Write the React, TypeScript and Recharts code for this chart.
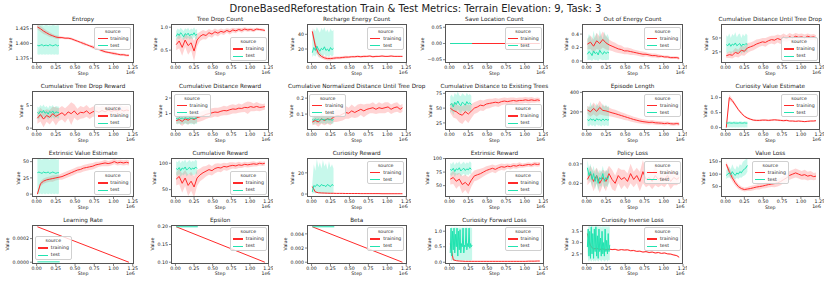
import React from "react"
import { ComposedChart, Line, Area, XAxis, YAxis } from "recharts"

const FONT = '"DejaVu Sans", sans-serif'
const RED = "#ff2a2a"
const TEAL = "#21e3b0"

// steps in units of 1e6
const TRAIN_STEPS = [0.01, 0.05, 0.09, 0.13, 0.17, 0.21, 0.25, 0.29, 0.33, 0.37, 0.41, 0.45, 0.49, 0.53, 0.57, 0.61, 0.65, 0.69, 0.73, 0.77, 0.81, 0.85, 0.89, 0.93, 0.97, 1.01, 1.05, 1.09, 1.13, 1.17, 1.2]
const TEST_STEPS = [0.01, 0.03, 0.05, 0.07, 0.09, 0.11, 0.13, 0.15, 0.17, 0.19, 0.21, 0.23, 0.25, 0.27, 0.29]
const OSC_STEPS = [0.01, 0.02, 0.03, 0.04, 0.05, 0.06, 0.07, 0.08, 0.09, 0.1, 0.11, 0.12, 0.13, 0.14, 0.15, 0.16, 0.17, 0.18, 0.19, 0.2, 0.21, 0.22, 0.23, 0.24, 0.25, 0.26, 0.27, 0.28, 0.29, 0.3]
const LIN_STEPS = [0.01, 1.2]
const TEST_LIN_STEPS = [0.01, 0.3]
const X_TICKS = [0, 0.25, 0.5, 0.75, 1, 1.25]

const entropyTrain = [1.428, 1.425, 1.421, 1.418, 1.415, 1.413, 1.411, 1.410, 1.410, 1.409, 1.409, 1.408, 1.406, 1.404, 1.402, 1.400, 1.398, 1.396, 1.394, 1.392, 1.390, 1.388, 1.386, 1.385, 1.384, 1.383, 1.382, 1.381, 1.381, 1.380, 1.380]
const entropyTrainSpread = [0.004, 0.005, 0.005, 0.004, 0.004, 0.003, 0.003, 0.003, 0.002, 0.002, 0.002, 0.002, 0.002, 0.002, 0.002, 0.003, 0.002, 0.002, 0.003, 0.002, 0.002, 0.003, 0.002, 0.002, 0.002, 0.003, 0.002, 0.002, 0.002, 0.002, 0.002]
const entropyTest = [1.397, 1.396, 1.397, 1.398, 1.396, 1.397, 1.397, 1.396, 1.398, 1.397, 1.396, 1.397, 1.398, 1.396, 1.397]
const entropyTestLo = [1.382, 1.381, 1.382, 1.381, 1.382, 1.381, 1.382, 1.381, 1.382, 1.381, 1.382, 1.381, 1.382, 1.381, 1.382]
const entropyTestHi = [1.431, 1.430, 1.431, 1.432, 1.430, 1.431, 1.432, 1.430, 1.431, 1.430, 1.432, 1.431, 1.430, 1.431, 1.431]

const treeDropTrain = [0.62, 0.70, 0.56, 0.72, 0.60, 0.66, 0.48, 0.72, 0.80, 0.84, 0.82, 0.88, 0.85, 0.90, 0.87, 0.91, 0.89, 0.93, 0.90, 0.94, 0.92, 0.95, 0.93, 0.96, 0.94, 0.95, 0.93, 0.96, 0.95, 0.94, 0.93]
const treeDropTrainSpread = [0.12, 0.16, 0.18, 0.15, 0.2, 0.16, 0.22, 0.14, 0.1, 0.1, 0.09, 0.08, 0.08, 0.07, 0.07, 0.06, 0.06, 0.05, 0.06, 0.05, 0.05, 0.04, 0.05, 0.04, 0.04, 0.04, 0.04, 0.03, 0.03, 0.03, 0.03]
const treeDropTest = [0.80, 0.86, 0.82, 0.88, 0.84, 0.79, 0.86, 0.83, 0.87, 0.81, 0.85, 0.83, 0.88, 0.82, 0.85]
const treeDropTestLo = [0.72, 0.76, 0.74, 0.78, 0.75, 0.72, 0.77, 0.74, 0.78, 0.73, 0.76, 0.74, 0.79, 0.73, 0.76]
const treeDropTestHi = [0.92, 0.97, 0.94, 0.99, 0.95, 0.92, 0.98, 0.95, 0.99, 0.93, 0.97, 0.95, 1.0, 0.94, 0.96]

const rechargeTrain = [44, 24, 14, 10, 8, 7, 7, 7.5, 8, 8, 8.5, 9, 9, 9.5, 9.5, 10, 9.5, 10, 10, 10.5, 9.5, 10, 10, 10.5, 10, 10, 10.5, 10, 10, 10, 10]
const rechargeTrainSpread = [5, 6, 5, 3, 2.5, 2.5, 2.5, 2, 2, 2, 2, 1.8, 1.5, 1.5, 1.5, 1.5, 1.5, 1.5, 1.2, 1.2, 1.2, 1.2, 1, 1, 1, 1, 1, 1, 1, 1, 1]
const rechargeTest = [15, 22, 18, 24, 20, 17, 21, 19, 23, 18, 20, 17, 22, 19, 21]
const rechargeTestLo = [9, 12, 10, 14, 11, 9, 12, 10, 13, 10, 11, 9, 12, 10, 12]
const rechargeTestHi = [40, 48, 44, 50, 46, 42, 49, 45, 50, 43, 47, 42, 48, 44, 46]

const saveLocTrain = [0, 0]
const saveLocTest = [0, 0]

const outEnergyTrain = [0.25, 0.28, 0.22, 0.30, 0.26, 0.32, 0.27, 0.24, 0.22, 0.20, 0.18, 0.17, 0.15, 0.15, 0.14, 0.13, 0.12, 0.11, 0.10, 0.10, 0.09, 0.08, 0.08, 0.07, 0.07, 0.06, 0.06, 0.05, 0.05, 0.05, 0.04]
const outEnergyTrainSpread = [0.08, 0.1, 0.1, 0.12, 0.1, 0.12, 0.1, 0.08, 0.07, 0.07, 0.06, 0.06, 0.05, 0.05, 0.05, 0.04, 0.04, 0.04, 0.04, 0.03, 0.03, 0.03, 0.03, 0.03, 0.02, 0.02, 0.02, 0.02, 0.02, 0.02, 0.02]
const outEnergyTest = [0.10, 0.14, 0.12, 0.08, 0.15, 0.11, 0.13, 0.09, 0.16, 0.12, 0.10, 0.14, 0.11, 0.13, 0.12]
const outEnergyTestLo = [0.01, 0.02, 0.02, 0.0, 0.03, 0.01, 0.02, 0.0, 0.03, 0.02, 0.01, 0.02, 0.01, 0.02, 0.02]
const outEnergyTestHi = [0.32, 0.40, 0.36, 0.30, 0.45, 0.34, 0.42, 0.31, 0.46, 0.38, 0.33, 0.44, 0.36, 0.40, 0.35]

const distUntilTrain = [18, 20, 19, 24, 22, 28, 26, 32, 34, 36, 39, 41, 43, 42, 45, 47, 46, 49, 47, 51, 49, 52, 50, 53, 51, 52, 50, 53, 51, 52, 50]
const distUntilTrainSpread = [4, 6, 6, 8, 7, 9, 8, 9, 8, 8, 8, 7, 7, 8, 7, 7, 8, 7, 8, 7, 6, 7, 6, 6, 6, 6, 6, 5, 5, 5, 5]
const distUntilTest = [38, 36, 40, 35, 39, 37, 41, 36, 38, 40, 35, 39, 37, 40, 38]
const distUntilTestLo = [24, 22, 26, 20, 25, 23, 27, 21, 24, 26, 21, 25, 23, 26, 24]
const distUntilTestHi = [55, 52, 58, 50, 57, 54, 60, 51, 56, 58, 50, 57, 53, 58, 55]

const dropRewardTrain = [2.2, 3.0, 2.0, 2.8, 2.4, 3.2, 2.6, 3.0, 3.4, 2.8, 3.6, 3.2, 3.8, 3.0, 3.5, 3.4, 3.8, 3.2, 3.6, 3.8, 3.5, 3.9, 3.6, 4.0, 3.7, 3.9, 3.8, 4.1, 3.8, 4.0, 3.9]
const dropRewardTrainSpread = [1.2, 1.5, 1.8, 1.4, 1.6, 1.5, 2.0, 1.4, 1.5, 1.6, 1.4, 2.5, 1.5, 1.3, 1.4, 1.2, 1.3, 1.2, 1.1, 1.2, 1.1, 1.0, 1.1, 1.0, 1.0, 1.0, 0.9, 1.0, 0.9, 0.9, 0.9]
const dropRewardTest = [3.5, 3.2, 3.8, 3.4, 3.9, 3.3, 3.6, 3.1, 3.7, 3.4, 3.8, 3.2, 3.6, 3.5, 3.4]
const dropRewardTestLo = [2.2, 1.9, 2.5, 2.0, 2.6, 2.1, 2.4, 1.8, 2.5, 2.1, 2.6, 2.0, 2.4, 2.2, 2.1]
const dropRewardTestHi = [4.8, 4.5, 5.1, 4.7, 5.2, 4.6, 4.9, 4.4, 5.0, 4.7, 5.1, 4.5, 4.9, 4.8, 4.7]

const distRewardTrain = [0.55, 0.62, 0.5, 0.66, 0.58, 0.7, 0.62, 0.74, 0.8, 0.86, 0.95, 1.0, 1.05, 1.1, 1.08, 1.15, 1.2, 1.18, 1.25, 1.3, 1.28, 1.35, 1.33, 1.4, 1.38, 1.45, 1.4, 1.46, 1.4, 1.42, 1.45]
const distRewardTrainSpread = [0.2, 0.25, 0.3, 0.25, 0.3, 0.28, 0.3, 0.3, 0.3, 0.3, 0.3, 0.28, 0.3, 0.28, 0.3, 0.28, 0.3, 0.28, 0.3, 0.3, 0.28, 0.3, 0.25, 0.3, 0.4, 0.3, 0.25, 0.28, 0.25, 0.2, 0.2]
const distRewardTest = [0.7, 0.65, 0.75, 0.68, 0.72, 0.66, 0.74, 0.7, 0.68, 0.73, 0.69, 0.71, 0.67, 0.72, 0.7]
const distRewardTestLo = [0.35, 0.3, 0.4, 0.28, 0.38, 0.3, 0.36, 0.32, 0.3, 0.38, 0.3, 0.35, 0.28, 0.36, 0.33]
const distRewardTestHi = [1.0, 0.95, 1.05, 0.98, 1.02, 0.94, 1.04, 1.0, 0.97, 1.03, 0.98, 1.01, 0.96, 1.02, 1.0]

const normDistTrain = [0.05, 0.06, 0.05, 0.07, 0.06, 0.07, 0.065, 0.08, 0.09, 0.09, 0.1, 0.11, 0.105, 0.12, 0.11, 0.12, 0.13, 0.12, 0.13, 0.135, 0.14, 0.13, 0.14, 0.135, 0.14, 0.145, 0.13, 0.14, 0.145, 0.13, 0.14]
const normDistTrainSpread = [0.02, 0.025, 0.03, 0.03, 0.03, 0.03, 0.035, 0.03, 0.04, 0.035, 0.04, 0.04, 0.035, 0.04, 0.035, 0.04, 0.035, 0.04, 0.035, 0.03, 0.035, 0.03, 0.035, 0.03, 0.035, 0.03, 0.03, 0.03, 0.03, 0.025, 0.025]
const normDistTest = [0.065, 0.06, 0.07, 0.062, 0.068, 0.06, 0.07, 0.064, 0.066, 0.06, 0.07, 0.063, 0.067, 0.061, 0.066]
const normDistTestLo = [0.04, 0.035, 0.045, 0.038, 0.044, 0.036, 0.046, 0.04, 0.042, 0.036, 0.045, 0.039, 0.043, 0.037, 0.042]
const normDistTestHi = [0.095, 0.09, 0.1, 0.092, 0.098, 0.09, 0.1, 0.094, 0.096, 0.09, 0.1, 0.093, 0.097, 0.091, 0.096]

const treesDistTrain = [50, 46, 44, 40, 38, 44, 40, 45, 50, 52, 55, 54, 57, 58, 59, 60, 59, 61, 62, 61, 62, 63, 62, 63, 63, 64, 63, 64, 63, 64, 63]
const treesDistTrainSpread = [8, 12, 12, 14, 15, 14, 15, 12, 10, 10, 9, 9, 8, 8, 7, 7, 7, 6, 6, 6, 6, 5, 5, 5, 5, 5, 5, 5, 4, 4, 4]
const treesDistTest = [55, 58, 52, 60, 56, 62, 57, 54, 60, 58, 55, 61, 57, 59, 56]
const treesDistTestLo = [42, 45, 38, 46, 43, 48, 44, 40, 46, 45, 41, 47, 44, 45, 43]
const treesDistTestHi = [70, 73, 68, 76, 72, 78, 72, 70, 75, 73, 70, 76, 72, 74, 71]

const epLenTrain = [220, 200, 235, 205, 245, 215, 210, 200, 190, 182, 172, 162, 152, 142, 132, 122, 114, 106, 100, 96, 92, 94, 88, 86, 84, 80, 84, 78, 76, 80, 75]
const epLenTrainSpread = [40, 50, 60, 55, 70, 50, 50, 45, 40, 40, 38, 35, 35, 30, 30, 28, 28, 25, 25, 22, 22, 22, 20, 20, 20, 20, 18, 18, 18, 18, 18]
const epLenTest = [120, 110, 130, 115, 125, 105, 130, 118, 122, 108, 128, 112, 124, 116, 120]
const epLenTestLo = [60, 50, 70, 55, 65, 48, 72, 58, 62, 50, 68, 52, 64, 56, 60]
const epLenTestHi = [260, 240, 300, 250, 280, 230, 290, 255, 270, 235, 285, 245, 275, 250, 260]

const curValTrain = [0.0, 1.0, 0.9, 0.75, 0.6, 0.48, 0.38, 0.32, 0.28, 0.25, 0.24, 0.24, 0.25, 0.25, 0.24, 0.25, 0.26, 0.25, 0.24, 0.23, 0.24, 0.22, 0.22, 0.21, 0.22, 0.21, 0.2, 0.21, 0.22, 0.22, 0.23]
const curValTrainSpread = [0.02, 0.1, 0.06, 0.05, 0.04, 0.04, 0.03, 0.03, 0.03, 0.03, 0.03, 0.03, 0.03, 0.03, 0.03, 0.03, 0.03, 0.03, 0.03, 0.03, 0.03, 0.02, 0.02, 0.02, 0.02, 0.02, 0.02, 0.02, 0.02, 0.02, 0.02]
const curValTest = [0.15, 0.15, 0.16, 0.15, 0.15, 0.16, 0.15, 0.15, 0.15, 0.16, 0.15, 0.15, 0.16, 0.15, 0.15]
const curValTestLo = [0.0, 0.01, 0.0, 0.01, 0.0, 0.01, 0.0, 0.01, 0.0, 0.01, 0.0, 0.01, 0.0, 0.01, 0.0]
const curValTestHi = [0.2, 0.19, 0.21, 0.2, 0.19, 0.21, 0.2, 0.2, 0.19, 0.21, 0.2, 0.19, 0.21, 0.2, 0.2]

const extValTrain = [0, 16, 20, 22, 23, 24, 25, 26, 27, 29, 31, 33, 35, 37, 38, 40, 41, 42, 43, 45, 46, 47, 48, 47, 48, 50, 48, 49, 48, 49, 48]
const extValTrainSpread = [2, 4, 4, 4, 4, 5, 4, 4, 5, 5, 5, 5, 5, 5, 5, 5, 5, 5, 5, 5, 4, 4, 5, 4, 4, 4, 4, 4, 4, 4, 4]
const extValTest = [33, 34, 33, 32, 34, 33, 33, 34, 32, 33, 34, 33, 32, 33, 33]
const extValTestLo = [1, 0, 1, 0, 1, 0, 1, 0, 1, 0, 1, 0, 1, 0, 1]
const extValTestHi = [54, 55, 54, 53, 55, 54, 55, 54, 53, 55, 54, 55, 54, 53, 54]

const cumRewardTrain = [70, 75, 62, 72, 58, 66, 55, 72, 78, 82, 85, 88, 86, 90, 92, 91, 94, 93, 95, 96, 95, 97, 96, 98, 97, 98, 99, 98, 100, 99, 100]
const cumRewardTrainSpread = [12, 15, 18, 15, 20, 18, 20, 15, 12, 12, 10, 10, 9, 9, 8, 8, 7, 7, 7, 6, 6, 6, 5, 5, 5, 5, 5, 4, 4, 4, 4]
const cumRewardTest = [90, 88, 92, 86, 91, 89, 93, 87, 90, 92, 88, 91, 89, 93, 90]
const cumRewardTestLo = [78, 76, 80, 74, 79, 77, 81, 75, 78, 80, 76, 79, 77, 81, 78]
const cumRewardTestHi = [104, 102, 106, 100, 105, 103, 107, 101, 104, 106, 102, 105, 103, 107, 104]

const curRewardTrain = [7, 2, 1.2, 1, 0.9, 0.8, 0.7, 0.7, 0.6, 0.6, 0.6, 0.5, 0.5, 0.5, 0.5, 0.5, 0.4, 0.4, 0.4, 0.4, 0.4, 0.4, 0.4, 0.3, 0.3, 0.3, 0.3, 0.3, 0.3, 0.3, 0.3]
const curRewardTrainSpread = [1, 0.5, 0.3, 0.2, 0.2, 0.2, 0.2, 0.2, 0.1, 0.1, 0.1, 0.1, 0.1, 0.1, 0.1, 0.1, 0.1, 0.1, 0.1, 0.1, 0.1, 0.1, 0.1, 0.1, 0.1, 0.1, 0.1, 0.1, 0.1, 0.1, 0.1]
const curRewardTest = [2, 8, 7, 9, 8, 7, 9, 8, 8, 7, 9, 8, 7, 9, 8]
const curRewardTestLo = [0, 1, 0.5, 1, 0.5, 1, 0.5, 1, 0.5, 1, 0.5, 1, 0.5, 1, 0.5]
const curRewardTestHi = [10, 28, 22, 33, 25, 30, 24, 32, 26, 29, 23, 31, 25, 28, 24]

const extRewardTrain = [62, 65, 58, 62, 52, 56, 50, 60, 68, 70, 72, 75, 78, 80, 82, 80, 83, 85, 84, 86, 85, 87, 86, 88, 87, 88, 89, 88, 90, 89, 90]
const extRewardTrainSpread = [10, 12, 14, 12, 16, 14, 16, 12, 10, 10, 9, 8, 8, 7, 7, 7, 6, 6, 6, 5, 5, 5, 5, 5, 4, 4, 4, 4, 4, 4, 4]
const extRewardTest = [80, 78, 82, 76, 81, 79, 83, 77, 80, 82, 78, 81, 79, 83, 80]
const extRewardTestLo = [70, 68, 72, 66, 71, 69, 73, 67, 70, 72, 68, 71, 69, 73, 70]
const extRewardTestHi = [92, 90, 94, 88, 93, 91, 95, 89, 92, 94, 90, 93, 91, 95, 92]

const policyLossTrain = [0.022, 0.025, 0.021, 0.024, 0.02, 0.023, 0.021, 0.025, 0.022, 0.02, 0.024, 0.022, 0.023, 0.021, 0.025, 0.022, 0.024, 0.021, 0.026, 0.022, 0.023, 0.021, 0.024, 0.022, 0.023, 0.022, 0.024, 0.021, 0.023, 0.022, 0.023]
const policyLossTrainSpread = [0.003, 0.004, 0.005, 0.004, 0.005, 0.004, 0.005, 0.004, 0.005, 0.004, 0.004, 0.005, 0.004, 0.004, 0.005, 0.004, 0.004, 0.005, 0.006, 0.004, 0.004, 0.004, 0.005, 0.004, 0.004, 0.004, 0.004, 0.004, 0.004, 0.003, 0.003]
const policyLossTest = [0.028, 0.024, 0.026, 0.022, 0.025, 0.021, 0.024, 0.02, 0.023, 0.022, 0.025, 0.021, 0.023, 0.022, 0.024]
const policyLossTestLo = [0.024, 0.021, 0.022, 0.018, 0.021, 0.017, 0.02, 0.016, 0.019, 0.018, 0.021, 0.017, 0.019, 0.018, 0.02]
const policyLossTestHi = [0.032, 0.028, 0.03, 0.026, 0.029, 0.025, 0.028, 0.025, 0.027, 0.026, 0.029, 0.025, 0.027, 0.026, 0.028]

const valueLossTrain = [140, 110, 85, 65, 50, 42, 38, 40, 42, 45, 48, 50, 52, 55, 58, 60, 62, 65, 70, 78, 85, 95, 100, 105, 100, 95, 98, 92, 95, 90, 92]
const valueLossTrainSpread = [10, 15, 15, 12, 10, 8, 8, 8, 10, 10, 10, 12, 10, 12, 12, 12, 15, 15, 15, 15, 18, 18, 18, 18, 18, 18, 20, 18, 18, 15, 15]
const valueLossTest = [95, 100, 105, 98, 110, 100, 95, 105, 100, 110, 105, 115, 120, 125, 135]
const valueLossTestLo = [80, 85, 88, 80, 90, 82, 78, 85, 80, 88, 85, 92, 95, 100, 110]
const valueLossTestHi = [115, 125, 130, 120, 140, 125, 118, 135, 125, 140, 135, 150, 155, 160, 165]

const lrTrain = [0.0003, 0.0]
const lrTest = [0.000003, 0.000003]
const epsTrain = [0.2, 0.1]
const epsTest = [0.2, 0.2]
const betaTrain = [0.005, 0.0]
const betaTest = [0.005, 0.005]

const fwdLossTrain = [0.6, 0.08, 0.05, 0.04, 0.035, 0.03, 0.03, 0.03, 0.03, 0.03, 0.03, 0.03, 0.03, 0.03, 0.03, 0.03, 0.03, 0.03, 0.03, 0.03, 0.03, 0.03, 0.03, 0.03, 0.03, 0.03, 0.035, 0.035, 0.035, 0.04, 0.04]
const fwdLossTrainSpread = [0.05, 0.03, 0.01, 0.01, 0.01, 0.01, 0.01, 0.01, 0.01, 0.01, 0.01, 0.01, 0.01, 0.01, 0.01, 0.01, 0.01, 0.01, 0.01, 0.01, 0.01, 0.01, 0.01, 0.01, 0.01, 0.01, 0.01, 0.01, 0.01, 0.01, 0.01]
const fwdLossTest = [0.3, 1.1, 0.2, 1.0, 0.4, 1.1, 0.3, 0.9, 0.5, 1.1, 0.2, 1.0, 0.4, 1.05, 0.3, 0.6, 0.5, 1.1, 0.3, 0.55, 0.5, 1.1, 0.4, 0.6, 0.5, 1.1, 0.45, 0.6, 0.5, 0.55]
const fwdLossTestLo = [0.3, 0.05, 0.05, 0.08, 0.05, 0.06, 0.05, 0.08, 0.06, 0.05, 0.05, 0.07, 0.06, 0.05, 0.08, 0.06, 0.05, 0.07, 0.05, 0.06, 0.08, 0.05, 0.06, 0.05, 0.07, 0.05, 0.06, 0.05, 0.07, 0.06]
const fwdLossTestHi = [0.5, 1.15, 1.1, 1.12, 1.08, 1.15, 1.1, 1.13, 1.1, 1.15, 1.08, 1.12, 1.1, 1.14, 1.09, 1.12, 1.1, 1.15, 1.08, 1.12, 1.1, 1.15, 1.1, 1.12, 1.08, 1.15, 1.1, 1.13, 1.1, 1.12]

const invLossTrain = [3.4, 2.85, 2.72, 2.74, 2.7, 2.72, 2.68, 2.71, 2.69, 2.7, 2.66, 2.69, 2.67, 2.68, 2.64, 2.65, 2.61, 2.62, 2.58, 2.6, 2.56, 2.58, 2.54, 2.56, 2.52, 2.54, 2.5, 2.49, 2.45, 2.42, 2.35]
const invLossTrainSpread = [0.1, 0.06, 0.04, 0.04, 0.04, 0.03, 0.03, 0.03, 0.03, 0.03, 0.03, 0.03, 0.03, 0.03, 0.03, 0.03, 0.03, 0.03, 0.03, 0.03, 0.03, 0.03, 0.03, 0.03, 0.03, 0.03, 0.03, 0.03, 0.03, 0.03, 0.03]
const invLossTest = [2.8, 3.6, 2.4, 3.5, 2.3, 3.7, 2.5, 3.4, 2.3, 3.6, 2.6, 3.7, 2.4, 3.3, 2.3, 3.6, 2.6, 3.2, 2.4, 3.5, 2.5, 3.0, 2.4, 3.6, 2.6, 3.1, 2.5, 3.4, 2.6, 2.9]
const invLossTestLo = [2.6, 2.2, 2.15, 2.25, 2.2, 2.15, 2.2, 2.25, 2.15, 2.2, 2.2, 2.15, 2.25, 2.2, 2.15, 2.2, 2.25, 2.2, 2.15, 2.2, 2.25, 2.2, 2.15, 2.2, 2.2, 2.25, 2.15, 2.2, 2.25, 2.2]
const invLossTestHi = [3.0, 3.72, 3.7, 3.75, 3.68, 3.72, 3.7, 3.74, 3.7, 3.72, 3.68, 3.75, 3.7, 3.72, 3.7, 3.73, 3.7, 3.72, 3.68, 3.74, 3.7, 3.72, 3.7, 3.75, 3.68, 3.72, 3.7, 3.73, 3.7, 3.72]

type Panel = {
  title: string; row: number; col: number
  yDomain: [number, number]; yTicks: number[]; dec: number; legend: string
  trainX: number[]; train: number[]; trainSpread?: number[]
  testX: number[]; test: number[]; testLo?: number[]; testHi?: number[]
}

const T = TRAIN_STEPS, S = TEST_STEPS
const PANELS: Panel[] = [
  { title: "Entropy", row: 0, col: 0, yDomain: [1.367, 1.433], yTicks: [1.375, 1.4, 1.425], dec: 3, legend: "ur", trainX: T, train: entropyTrain, trainSpread: entropyTrainSpread, testX: S, test: entropyTest, testLo: entropyTestLo, testHi: entropyTestHi },
  { title: "Tree Drop Count", row: 0, col: 1, yDomain: [0.22, 1.07], yTicks: [0.5, 1.0], dec: 1, legend: "lr", trainX: T, train: treeDropTrain, trainSpread: treeDropTrainSpread, testX: S, test: treeDropTest, testLo: treeDropTestLo, testHi: treeDropTestHi },
  { title: "Recharge Energy Count", row: 0, col: 2, yDomain: [1, 54], yTicks: [20, 40], dec: 0, legend: "ur", trainX: T, train: rechargeTrain, trainSpread: rechargeTrainSpread, testX: S, test: rechargeTest, testLo: rechargeTestLo, testHi: rechargeTestHi },
  { title: "Save Location Count", row: 0, col: 3, yDomain: [-0.06, 0.06], yTicks: [-0.05, 0, 0.05], dec: 2, legend: "ur", trainX: LIN_STEPS, train: saveLocTrain, testX: TEST_LIN_STEPS, test: saveLocTest },
  { title: "Out of Energy Count", row: 0, col: 4, yDomain: [-0.03, 0.55], yTicks: [0, 0.2, 0.4], dec: 1, legend: "ur", trainX: T, train: outEnergyTrain, trainSpread: outEnergyTrainSpread, testX: S, test: outEnergyTest, testLo: outEnergyTestLo, testHi: outEnergyTestHi },
  { title: "Cumulative Distance Until Tree Drop", row: 0, col: 5, yDomain: [5, 75], yTicks: [25, 50], dec: 0, legend: "lr", trainX: T, train: distUntilTrain, trainSpread: distUntilTrainSpread, testX: S, test: distUntilTest, testLo: distUntilTestLo, testHi: distUntilTestHi },
  { title: "Cumulative Tree Drop Reward", row: 1, col: 0, yDomain: [-0.4, 8.2], yTicks: [0, 5], dec: 0, legend: "lr", trainX: T, train: dropRewardTrain, trainSpread: dropRewardTrainSpread, testX: S, test: dropRewardTest, testLo: dropRewardTestLo, testHi: dropRewardTestHi },
  { title: "Cumulative Distance Reward", row: 1, col: 1, yDomain: [-0.05, 2.45], yTicks: [1, 2], dec: 0, legend: "ul", trainX: T, train: distRewardTrain, trainSpread: distRewardTrainSpread, testX: S, test: distRewardTest, testLo: distRewardTestLo, testHi: distRewardTestHi },
  { title: "Cumulative Normalized Distance Until Tree Drop", row: 1, col: 2, yDomain: [0.0, 0.245], yTicks: [0.1, 0.2], dec: 1, legend: "ul", trainX: T, train: normDistTrain, trainSpread: normDistTrainSpread, testX: S, test: normDistTest, testLo: normDistTestLo, testHi: normDistTestHi },
  { title: "Cumulative Distance to Existing Trees", row: 1, col: 3, yDomain: [13, 79], yTicks: [25, 50, 75], dec: 0, legend: "lr", trainX: T, train: treesDistTrain, trainSpread: treesDistTrainSpread, testX: S, test: treesDistTest, testLo: treesDistTestLo, testHi: treesDistTestHi },
  { title: "Episode Length", row: 1, col: 4, yDomain: [14, 414], yTicks: [200, 400], dec: 0, legend: "ur", trainX: T, train: epLenTrain, trainSpread: epLenTrainSpread, testX: S, test: epLenTest, testLo: epLenTestLo, testHi: epLenTestHi },
  { title: "Curiosity Value Estimate", row: 1, col: 5, yDomain: [-0.08, 1.22], yTicks: [0, 0.5, 1.0], dec: 1, legend: "ur", trainX: T, train: curValTrain, trainSpread: curValTrainSpread, testX: S, test: curValTest, testLo: curValTestLo, testHi: curValTestHi },
  { title: "Extrinsic Value Estimate", row: 2, col: 0, yDomain: [-4.4, 55.6], yTicks: [0, 25, 50], dec: 0, legend: "lr", trainX: T, train: extValTrain, trainSpread: extValTrainSpread, testX: S, test: extValTest, testLo: extValTestLo, testHi: extValTestHi },
  { title: "Cumulative Reward", row: 2, col: 1, yDomain: [36, 110], yTicks: [50, 100], dec: 0, legend: "lr", trainX: T, train: cumRewardTrain, trainSpread: cumRewardTrainSpread, testX: S, test: cumRewardTest, testLo: cumRewardTestLo, testHi: cumRewardTestHi },
  { title: "Curiosity Reward", row: 2, col: 2, yDomain: [-2.8, 34], yTicks: [0, 20], dec: 0, legend: "ur", trainX: T, train: curRewardTrain, trainSpread: curRewardTrainSpread, testX: S, test: curRewardTest, testLo: curRewardTestLo, testHi: curRewardTestHi },
  { title: "Extrinsic Reward", row: 2, col: 3, yDomain: [29, 101], yTicks: [50, 75, 100], dec: 0, legend: "lr", trainX: T, train: extRewardTrain, trainSpread: extRewardTrainSpread, testX: S, test: extRewardTest, testLo: extRewardTestLo, testHi: extRewardTestHi },
  { title: "Policy Loss", row: 2, col: 4, yDomain: [0.013, 0.033], yTicks: [0.02, 0.03], dec: 2, legend: "ur", trainX: T, train: policyLossTrain, trainSpread: policyLossTrainSpread, testX: S, test: policyLossTest, testLo: policyLossTestLo, testHi: policyLossTestHi },
  { title: "Value Loss", row: 2, col: 5, yDomain: [8, 165], yTicks: [50, 100, 150], dec: 0, legend: "uc", trainX: T, train: valueLossTrain, trainSpread: valueLossTrainSpread, testX: S, test: valueLossTest, testLo: valueLossTestLo, testHi: valueLossTestHi },
  { title: "Learning Rate", row: 3, col: 0, yDomain: [-0.000015, 0.000315], yTicks: [0, 0.0002], dec: 4, legend: "ll", trainX: LIN_STEPS, train: lrTrain, testX: TEST_LIN_STEPS, test: lrTest },
  { title: "Epsilon", row: 3, col: 1, yDomain: [0.095, 0.205], yTicks: [0.1, 0.15, 0.2], dec: 2, legend: "ur", trainX: LIN_STEPS, train: epsTrain, testX: TEST_LIN_STEPS, test: epsTest },
  { title: "Beta", row: 3, col: 2, yDomain: [-0.00025, 0.00525], yTicks: [0, 0.002, 0.004], dec: 3, legend: "ur", trainX: LIN_STEPS, train: betaTrain, testX: TEST_LIN_STEPS, test: betaTest },
  { title: "Curiosity Forward Loss", row: 3, col: 3, yDomain: [-0.056, 1.2], yTicks: [0, 0.5, 1.0], dec: 1, legend: "ur", trainX: T, train: fwdLossTrain, trainSpread: fwdLossTrainSpread, testX: OSC_STEPS, test: fwdLossTest, testLo: fwdLossTestLo, testHi: fwdLossTestHi },
  { title: "Curiosity Inverse Loss", row: 3, col: 4, yDomain: [2.05, 3.78], yTicks: [2.5, 3.0, 3.5], dec: 1, legend: "ur", trainX: T, train: invLossTrain, trainSpread: invLossTrainSpread, testX: OSC_STEPS, test: invLossTest, testLo: invLossTestLo, testHi: invLossTestHi },
]

// layout of plot boxes
const COL_X = [32.3, 171, 306.7, 444.7, 581.7, 720.5]
const COL_W = [101.5, 98.3, 100, 99.3, 101.8, 99.5]
const ROW_Y = [24, 91, 158, 224.5]
const ROW_H = 39
const FS = 4.7

const fmtNum = (v: number, dec: number) => (v < 0 ? "\u2212" : "") + Math.abs(v).toFixed(dec)
const textW = (s: string) => [...s].reduce((a, c) => a + (c === "." ? 0.318 : c === "\u2212" ? 0.838 : 0.636), 0) * FS

function LegendBox({ left, top }: { left: number; top: number }) {
  const row = (label: string, color: string, y: number) => (
    <div style={{ position: "absolute", left: 0, top: y, width: "100%", height: 6 }}>
      <div style={{ position: "absolute", left: 2.3, top: 2.4, width: 10, height: 1.3, background: color }} />
      <div style={{ position: "absolute", left: 15, top: 0, lineHeight: "6px" }}>{label}</div>
    </div>
  )
  return (
    <div style={{
      position: "absolute", left, top, width: 37, height: 23.5, boxSizing: "border-box",
      background: "rgba(255,255,255,0.8)", border: "0.6px solid #d0d0d0", borderRadius: 2,
      fontFamily: FONT, fontSize: FS, color: "#222",
    }}>
      <div style={{ position: "absolute", top: 1.2, width: "100%", textAlign: "center", lineHeight: "6px" }}>source</div>
      {row("training", RED, 8)}
      {row("test", TEAL, 15.2)}
    </div>
  )
}

function PanelView({ p }: { p: Panel }) {
  const x = COL_X[p.col], w = COL_W[p.col], y = ROW_Y[p.row], h = ROW_H
  const YW = 40, XH = 14, MT = 2, MR = 4
  const trainRows = p.trainX.map((s, i) => ({
    x: s, y: p.train[i],
    band: p.trainSpread ? [p.train[i] - p.trainSpread[i], p.train[i] + p.trainSpread[i]] : null,
  }))
  const testRows = p.testX.map((s, i) => ({
    x: s, y: p.test[i],
    band: p.testLo && p.testHi ? [p.testLo[i], p.testHi[i]] : null,
  }))
  const tickStyle = { fontSize: FS, fill: "#222", fontFamily: FONT }
  const maxLab = Math.max(...p.yTicks.map(t => textW(fmtNum(t, p.dec))))
  const valueX = x - 3 - maxLab - 4.5
  const LW = 37, LH = 23.5, pad = 2.5
  const lg: Record<string, [number, number]> = {
    ur: [x + w - LW - pad, y + pad],
    lr: [x + w - LW - pad, y + h - LH - pad],
    ul: [x + pad, y + pad],
    uc: [x + w / 2 - LW / 2, y + pad],
    ll: [x + pad, y + h - LH - 4],
  }
  const [lx, ly] = lg[p.legend]
  const txt = { position: "absolute" as const, fontFamily: FONT, color: "#222", whiteSpace: "nowrap" as const, lineHeight: 1 }
  return (
    <>
      <div style={{ position: "absolute", left: x - YW, top: y - MT }}>
        <ComposedChart width={YW + w + MR} height={MT + h + XH} margin={{ top: MT, right: MR, bottom: 0, left: 0 }}>
          <XAxis type="number" dataKey="x" domain={[-0.06, 1.26]} ticks={X_TICKS} interval={0} allowDataOverflow
            tickFormatter={(v: number) => v.toFixed(2)} axisLine={false} tickSize={2} tickMargin={0.5}
            tick={tickStyle} tickLine={{ stroke: "#333", strokeWidth: 0.6 }} height={XH} />
          <YAxis type="number" domain={p.yDomain} ticks={p.yTicks} interval={0} allowDataOverflow width={YW}
            tickFormatter={(v: number) => fmtNum(v, p.dec)} axisLine={false} tickSize={2} tickMargin={1}
            tick={tickStyle} tickLine={{ stroke: "#333", strokeWidth: 0.6 }} />
          {p.trainSpread && (
            <Area data={trainRows} dataKey="band" type="linear" stroke="none" fill={RED} fillOpacity={0.2} isAnimationActive={false} />
          )}
          {p.testLo && (
            <Area data={testRows} dataKey="band" type="linear" stroke="none" fill={TEAL} fillOpacity={0.25} isAnimationActive={false} />
          )}
          <Line data={trainRows} dataKey="y" type="linear" stroke={RED} strokeWidth={1} dot={false} isAnimationActive={false} />
          <Line data={testRows} dataKey="y" type="linear" stroke={TEAL} strokeWidth={1} dot={false} isAnimationActive={false} />
        </ComposedChart>
      </div>
      <div style={{ position: "absolute", left: x, top: y, width: w, height: h, boxSizing: "border-box", border: "0.8px solid #555", pointerEvents: "none" }} />
      <div style={{ ...txt, left: x + w / 2, top: y - 7, fontSize: 5.7, transform: "translateX(-50%)" }}>{p.title}</div>
      <div style={{ ...txt, left: valueX, top: y + h / 2, fontSize: FS, transform: "translate(-50%,-50%) rotate(-90deg)" }}>Value</div>
      <div style={{ ...txt, left: x + w / 2, top: y + h + 8.7, fontSize: FS, transform: "translateX(-50%)" }}>Step</div>
      <div style={{ ...txt, left: x + w + 1, top: y + h + 8.4, fontSize: FS, transform: "translateX(-100%)" }}>1e6</div>
      <LegendBox left={lx} top={ly} />
    </>
  )
}

export default function App() {
  return (
    <div style={{ position: "absolute", left: 0, top: 0, width: 831, height: 283, background: "#fff", overflow: "hidden" }}>
      <div style={{ position: "absolute", left: 415.5, top: 3.5, transform: "translateX(-50%)", fontFamily: FONT, fontSize: 10, color: "#222", whiteSpace: "nowrap", lineHeight: 1 }}>
        DroneBasedReforestation Train &amp; Test Metrics: Terrain Elevation: 9, Task: 3
      </div>
      {PANELS.map(p => <PanelView key={p.title} p={p} />)}
    </div>
  )
}
